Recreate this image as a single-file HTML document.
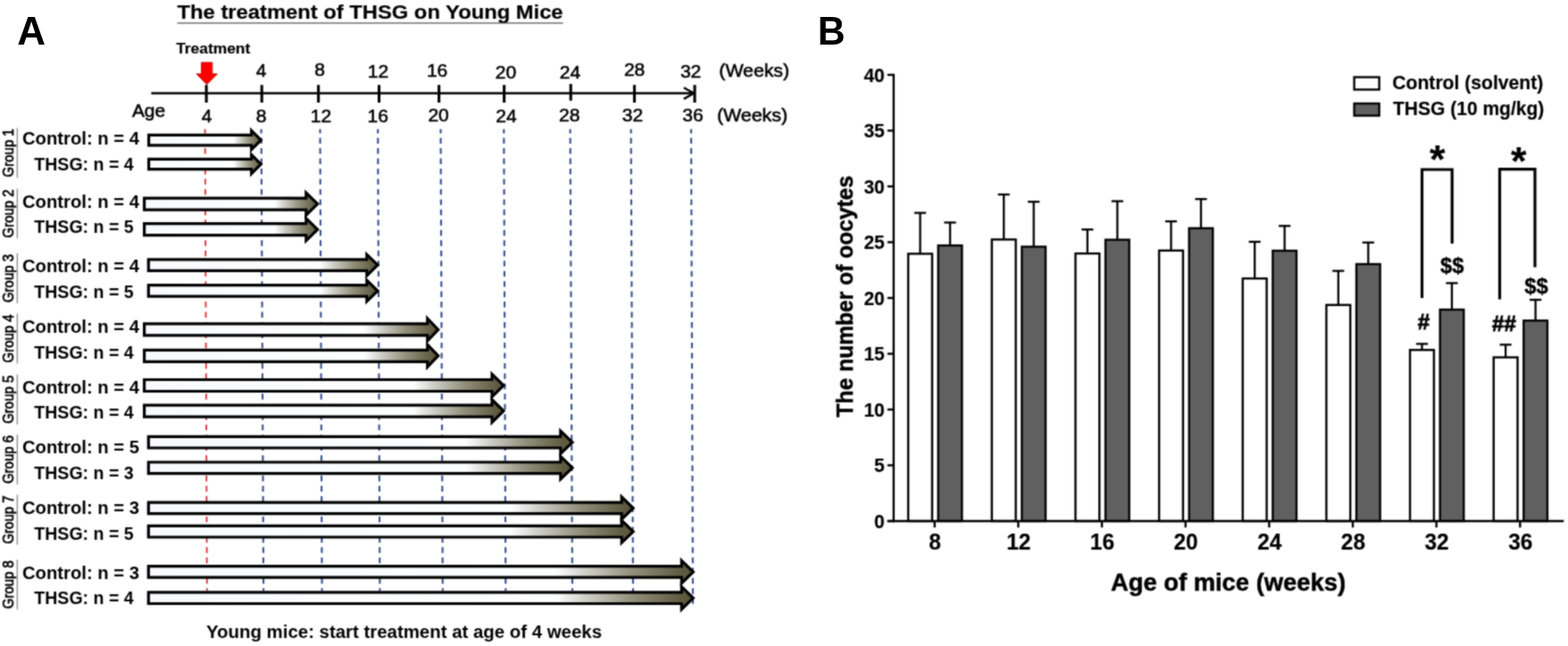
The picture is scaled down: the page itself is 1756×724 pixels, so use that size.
<!DOCTYPE html>
<html lang="en"><head><meta charset="utf-8"><title>The treatment of THSG on Young Mice</title>
<style>
html,body{margin:0;padding:0;background:#fff;}
body{width:1756px;height:724px;overflow:hidden;}
svg{display:block;font-family:"Liberation Sans", sans-serif;fill:#000;}
svg text{font-family:"Liberation Sans", sans-serif;}
</style></head>
<body>
<svg width="1756" height="724" viewBox="0 0 1756 724">
<defs>
<linearGradient id="ag0" gradientUnits="userSpaceOnUse" x1="165.0" y1="0" x2="294.5" y2="0"><stop offset="0" stop-color="#f8fafd"/><stop offset="0.745" stop-color="#fdfeff"/><stop offset="0.80" stop-color="#d0d0ca"/><stop offset="0.885" stop-color="#92907c"/><stop offset="0.973" stop-color="#605c42"/><stop offset="1" stop-color="#57533a"/></linearGradient>
<linearGradient id="ag1" gradientUnits="userSpaceOnUse" x1="160.0" y1="0" x2="357.9" y2="0"><stop offset="0" stop-color="#f8fafd"/><stop offset="0.745" stop-color="#fdfeff"/><stop offset="0.80" stop-color="#d0d0ca"/><stop offset="0.885" stop-color="#92907c"/><stop offset="0.973" stop-color="#605c42"/><stop offset="1" stop-color="#57533a"/></linearGradient>
<linearGradient id="ag2" gradientUnits="userSpaceOnUse" x1="164.7" y1="0" x2="425.2" y2="0"><stop offset="0" stop-color="#f8fafd"/><stop offset="0.745" stop-color="#fdfeff"/><stop offset="0.80" stop-color="#d0d0ca"/><stop offset="0.885" stop-color="#92907c"/><stop offset="0.973" stop-color="#605c42"/><stop offset="1" stop-color="#57533a"/></linearGradient>
<linearGradient id="ag3" gradientUnits="userSpaceOnUse" x1="160.0" y1="0" x2="492.9" y2="0"><stop offset="0" stop-color="#f8fafd"/><stop offset="0.745" stop-color="#fdfeff"/><stop offset="0.80" stop-color="#d0d0ca"/><stop offset="0.885" stop-color="#92907c"/><stop offset="0.973" stop-color="#605c42"/><stop offset="1" stop-color="#57533a"/></linearGradient>
<linearGradient id="ag4" gradientUnits="userSpaceOnUse" x1="160.0" y1="0" x2="566.2" y2="0"><stop offset="0" stop-color="#f8fafd"/><stop offset="0.745" stop-color="#fdfeff"/><stop offset="0.80" stop-color="#d0d0ca"/><stop offset="0.885" stop-color="#92907c"/><stop offset="0.973" stop-color="#605c42"/><stop offset="1" stop-color="#57533a"/></linearGradient>
<linearGradient id="ag5" gradientUnits="userSpaceOnUse" x1="164.7" y1="0" x2="643.3" y2="0"><stop offset="0" stop-color="#f8fafd"/><stop offset="0.745" stop-color="#fdfeff"/><stop offset="0.80" stop-color="#d0d0ca"/><stop offset="0.885" stop-color="#92907c"/><stop offset="0.973" stop-color="#605c42"/><stop offset="1" stop-color="#57533a"/></linearGradient>
<linearGradient id="ag6" gradientUnits="userSpaceOnUse" x1="164.7" y1="0" x2="711.4" y2="0"><stop offset="0" stop-color="#f8fafd"/><stop offset="0.745" stop-color="#fdfeff"/><stop offset="0.80" stop-color="#d0d0ca"/><stop offset="0.885" stop-color="#92907c"/><stop offset="0.973" stop-color="#605c42"/><stop offset="1" stop-color="#57533a"/></linearGradient>
<linearGradient id="ag7" gradientUnits="userSpaceOnUse" x1="164.7" y1="0" x2="778.6" y2="0"><stop offset="0" stop-color="#f8fafd"/><stop offset="0.745" stop-color="#fdfeff"/><stop offset="0.80" stop-color="#d0d0ca"/><stop offset="0.885" stop-color="#92907c"/><stop offset="0.973" stop-color="#605c42"/><stop offset="1" stop-color="#57533a"/></linearGradient>
<filter id="soft" x="0" y="0" width="1756" height="724" filterUnits="userSpaceOnUse" color-interpolation-filters="sRGB"><feConvolveMatrix order="3" kernelMatrix="0.0533 0.1067 0.0533 0.1067 0.3600 0.1067 0.0533 0.1067 0.0533" divisor="1" edgeMode="duplicate" preserveAlpha="true"/></filter>
</defs>
<g filter="url(#soft)">
<rect x="0" y="0" width="1756" height="724" fill="#ffffff"/>
<g id="panelA">
<text x="198.60" y="20.90" font-size="22.9" font-weight="bold" stroke="#000" stroke-width="0.18" textLength="432.00" lengthAdjust="spacingAndGlyphs">The treatment of THSG on Young Mice</text>
<line x1="198.5" y1="25.8" x2="630.6" y2="25.8" stroke="#505050" stroke-width="1.3"/>
<text x="197.20" y="60.30" font-size="16.5" font-weight="bold" stroke="#000" stroke-width="0.18" textLength="83.00" lengthAdjust="spacingAndGlyphs">Treatment</text>
<polygon points="225.5,69.9 237.8,69.9 237.8,82.8 243.5,82.8 231.6,94.8 219.9,82.8 225.5,82.8" fill="#fe0000" stroke="#b80000" stroke-width="0.8" stroke-linejoin="round"/>
<line x1="229.6" y1="144.7" x2="231.8" y2="662" stroke="#d8282e" stroke-width="1.8" stroke-dasharray="6.4 5.07" stroke-dashoffset="1.6"/>
<line x1="292.6" y1="144.7" x2="295.1" y2="662" stroke="#354c8a" stroke-width="2.1" stroke-dasharray="6.4 5.07" stroke-dashoffset="1.6"/>
<line x1="358.5" y1="144.7" x2="360.6" y2="662" stroke="#354c8a" stroke-width="2.1" stroke-dasharray="6.4 5.07" stroke-dashoffset="1.6"/>
<line x1="423.2" y1="144.7" x2="425.4" y2="662" stroke="#354c8a" stroke-width="2.1" stroke-dasharray="6.4 5.07" stroke-dashoffset="1.6"/>
<line x1="493.5" y1="144.7" x2="495.8" y2="662" stroke="#354c8a" stroke-width="2.1" stroke-dasharray="6.4 5.07" stroke-dashoffset="1.6"/>
<line x1="564.3" y1="144.7" x2="566.3" y2="662" stroke="#354c8a" stroke-width="2.1" stroke-dasharray="6.4 5.07" stroke-dashoffset="1.6"/>
<line x1="638.6" y1="144.7" x2="641.0" y2="662" stroke="#354c8a" stroke-width="2.1" stroke-dasharray="6.4 5.07" stroke-dashoffset="1.6"/>
<line x1="706.6" y1="144.7" x2="709.0" y2="667" stroke="#354c8a" stroke-width="2.1" stroke-dasharray="6.4 5.07" stroke-dashoffset="1.6"/>
<line x1="774.0" y1="144.7" x2="776.0" y2="676.7" stroke="#354c8a" stroke-width="2.1" stroke-dasharray="6.4 5.07" stroke-dashoffset="1.6"/>
<line x1="169.4" y1="104.5" x2="777" y2="104.5" stroke="#000" stroke-width="2.4"/>
<line x1="231.1" y1="95.2" x2="231.1" y2="115" stroke="#000" stroke-width="3.1"/>
<line x1="293.2" y1="95.2" x2="293.2" y2="115" stroke="#000" stroke-width="3.1"/>
<line x1="356.6" y1="95.2" x2="356.6" y2="115" stroke="#000" stroke-width="3.1"/>
<line x1="424.5" y1="95.2" x2="424.5" y2="115" stroke="#000" stroke-width="3.1"/>
<line x1="491.6" y1="95.2" x2="491.6" y2="115" stroke="#000" stroke-width="3.1"/>
<line x1="564.6" y1="95.2" x2="564.6" y2="115" stroke="#000" stroke-width="3.1"/>
<line x1="639.2" y1="94.1" x2="639.2" y2="112.8" stroke="#000" stroke-width="3.1"/>
<line x1="710.5" y1="95.2" x2="710.5" y2="115" stroke="#000" stroke-width="3.1"/>
<line x1="778" y1="95.2" x2="778" y2="115" stroke="#000" stroke-width="3.1"/>
<polyline points="765.8,98.2 777,104.5 765.8,110.9" fill="none" stroke="#000" stroke-width="2.4" stroke-linejoin="miter"/>
<text x="286.76" y="86.10" font-size="20" stroke="#000" stroke-width="0.55" textLength="11.68" lengthAdjust="spacingAndGlyphs">4</text>
<text x="352.16" y="85.40" font-size="20" stroke="#000" stroke-width="0.55" textLength="11.68" lengthAdjust="spacingAndGlyphs">8</text>
<text x="411.82" y="86.70" font-size="20" stroke="#000" stroke-width="0.55" textLength="23.36" lengthAdjust="spacingAndGlyphs">12</text>
<text x="477.92" y="85.70" font-size="20" stroke="#000" stroke-width="0.55" textLength="23.36" lengthAdjust="spacingAndGlyphs">16</text>
<text x="554.82" y="87.80" font-size="20" stroke="#000" stroke-width="0.55" textLength="23.36" lengthAdjust="spacingAndGlyphs">20</text>
<text x="626.72" y="88.20" font-size="20" stroke="#000" stroke-width="0.55" textLength="23.36" lengthAdjust="spacingAndGlyphs">24</text>
<text x="698.92" y="85.20" font-size="20" stroke="#000" stroke-width="0.55" textLength="23.36" lengthAdjust="spacingAndGlyphs">28</text>
<text x="761.92" y="87.40" font-size="20" stroke="#000" stroke-width="0.55" textLength="23.36" lengthAdjust="spacingAndGlyphs">32</text>
<text x="805.30" y="86.00" font-size="20" stroke="#000" stroke-width="0.55" textLength="78.80" lengthAdjust="spacingAndGlyphs">(Weeks)</text>
<text x="147.90" y="131.30" font-size="20" stroke="#000" stroke-width="0.55" textLength="37.20" lengthAdjust="spacingAndGlyphs">Age</text>
<text x="225.66" y="137.00" font-size="20" stroke="#000" stroke-width="0.55" textLength="11.68" lengthAdjust="spacingAndGlyphs">4</text>
<text x="286.66" y="137.30" font-size="20" stroke="#000" stroke-width="0.55" textLength="11.68" lengthAdjust="spacingAndGlyphs">8</text>
<text x="347.72" y="137.40" font-size="20" stroke="#000" stroke-width="0.55" textLength="23.36" lengthAdjust="spacingAndGlyphs">12</text>
<text x="411.62" y="137.40" font-size="20" stroke="#000" stroke-width="0.55" textLength="23.36" lengthAdjust="spacingAndGlyphs">16</text>
<text x="479.42" y="136.40" font-size="20" stroke="#000" stroke-width="0.55" textLength="23.36" lengthAdjust="spacingAndGlyphs">20</text>
<text x="555.32" y="137.10" font-size="20" stroke="#000" stroke-width="0.55" textLength="23.36" lengthAdjust="spacingAndGlyphs">24</text>
<text x="626.12" y="135.80" font-size="20" stroke="#000" stroke-width="0.55" textLength="23.36" lengthAdjust="spacingAndGlyphs">28</text>
<text x="696.72" y="136.20" font-size="20" stroke="#000" stroke-width="0.55" textLength="23.36" lengthAdjust="spacingAndGlyphs">32</text>
<text x="764.22" y="136.00" font-size="20" stroke="#000" stroke-width="0.55" textLength="23.36" lengthAdjust="spacingAndGlyphs">36</text>
<text x="802.90" y="135.70" font-size="20" stroke="#000" stroke-width="0.55" textLength="79.20" lengthAdjust="spacingAndGlyphs">(Weeks)</text>
<polygon points="165.00,149.80 280.00,149.80 280.00,142.60 294.50,157.10 280.00,171.60 280.00,164.40 165.00,164.40" fill="#000"/>
<polygon points="168.20,153.00 283.20,153.00 283.20,150.33 289.97,157.10 283.20,163.87 283.20,161.20 168.20,161.20" fill="url(#ag0)"/>
<polygon points="165.00,176.70 280.00,176.70 280.00,169.50 294.50,184.00 280.00,198.50 280.00,191.30 165.00,191.30" fill="#000"/>
<polygon points="168.20,179.90 283.20,179.90 283.20,177.23 289.97,184.00 283.20,190.77 283.20,188.10 168.20,188.10" fill="url(#ag0)"/>
<text x="25.00" y="162.30" font-size="20.8" font-weight="bold" textLength="131.00" lengthAdjust="spacingAndGlyphs" stroke="none">Control: n = 4</text>
<text x="38.30" y="190.70" font-size="20.8" font-weight="bold" textLength="111.30" lengthAdjust="spacingAndGlyphs" stroke="none">THSG: n = 4</text>
<text transform="translate(15.40,198.40) rotate(-90)" font-size="15.8" stroke="#000" stroke-width="0.7" textLength="54.10" lengthAdjust="spacingAndGlyphs">Group 1</text>
<line x1="19.3" y1="143.35" x2="19.3" y2="199.35" stroke="#666" stroke-width="1"/>
<polygon points="160.00,220.50 341.20,220.50 341.20,212.30 357.90,228.60 341.20,244.90 341.20,236.70 160.00,236.70" fill="#000"/>
<polygon points="163.20,223.70 344.40,223.70 344.40,219.89 353.32,228.60 344.40,237.31 344.40,233.50 163.20,233.50" fill="url(#ag1)"/>
<polygon points="160.00,249.10 341.20,249.10 341.20,240.90 357.90,257.20 341.20,273.50 341.20,265.30 160.00,265.30" fill="#000"/>
<polygon points="163.20,252.30 344.40,252.30 344.40,248.49 353.32,257.20 344.40,265.91 344.40,262.10 163.20,262.10" fill="url(#ag1)"/>
<text x="25.00" y="232.50" font-size="20.8" font-weight="bold" textLength="131.00" lengthAdjust="spacingAndGlyphs" stroke="none">Control: n = 4</text>
<text x="38.30" y="261.30" font-size="20.8" font-weight="bold" textLength="111.30" lengthAdjust="spacingAndGlyphs" stroke="none">THSG: n = 5</text>
<text transform="translate(15.40,266.45) rotate(-90)" font-size="15.8" stroke="#000" stroke-width="0.7" textLength="54.10" lengthAdjust="spacingAndGlyphs">Group 2</text>
<line x1="19.3" y1="211.4" x2="19.3" y2="267.4" stroke="#666" stroke-width="1"/>
<polygon points="164.70,289.20 409.20,289.20 409.20,281.50 425.20,297.10 409.20,312.70 409.20,305.00 164.70,305.00" fill="#000"/>
<polygon points="167.90,292.40 412.40,292.40 412.40,289.09 420.62,297.10 412.40,305.11 412.40,301.80 167.90,301.80" fill="url(#ag2)"/>
<polygon points="164.70,318.00 409.20,318.00 409.20,310.30 425.20,325.90 409.20,341.50 409.20,333.80 164.70,333.80" fill="#000"/>
<polygon points="167.90,321.20 412.40,321.20 412.40,317.89 420.62,325.90 412.40,333.91 412.40,330.60 167.90,330.60" fill="url(#ag2)"/>
<text x="25.00" y="304.50" font-size="20.8" font-weight="bold" textLength="131.00" lengthAdjust="spacingAndGlyphs" stroke="none">Control: n = 4</text>
<text x="38.30" y="333.60" font-size="20.8" font-weight="bold" textLength="111.30" lengthAdjust="spacingAndGlyphs" stroke="none">THSG: n = 5</text>
<text transform="translate(15.40,339.05) rotate(-90)" font-size="15.8" stroke="#000" stroke-width="0.7" textLength="54.10" lengthAdjust="spacingAndGlyphs">Group 3</text>
<line x1="19.3" y1="284.0" x2="19.3" y2="340.0" stroke="#666" stroke-width="1"/>
<polygon points="160.00,361.30 477.10,361.30 477.10,352.90 492.90,369.40 477.10,385.90 477.10,377.50 160.00,377.50" fill="#000"/>
<polygon points="163.20,364.50 480.30,364.50 480.30,360.87 488.47,369.40 480.30,377.93 480.30,374.30 163.20,374.30" fill="url(#ag3)"/>
<polygon points="160.00,390.70 477.10,390.70 477.10,382.30 492.90,398.80 477.10,415.30 477.10,406.90 160.00,406.90" fill="#000"/>
<polygon points="163.20,393.90 480.30,393.90 480.30,390.27 488.47,398.80 480.30,407.33 480.30,403.70 163.20,403.70" fill="url(#ag3)"/>
<text x="25.00" y="373.00" font-size="20.8" font-weight="bold" textLength="131.00" lengthAdjust="spacingAndGlyphs" stroke="none">Control: n = 4</text>
<text x="38.30" y="401.90" font-size="20.8" font-weight="bold" textLength="111.30" lengthAdjust="spacingAndGlyphs" stroke="none">THSG: n = 4</text>
<text transform="translate(15.40,406.45) rotate(-90)" font-size="15.8" stroke="#000" stroke-width="0.7" textLength="54.10" lengthAdjust="spacingAndGlyphs">Group 4</text>
<line x1="19.3" y1="351.4" x2="19.3" y2="407.4" stroke="#666" stroke-width="1"/>
<polygon points="160.00,423.90 549.40,423.90 549.40,415.40 566.20,432.00 549.40,448.60 549.40,440.10 160.00,440.10" fill="#000"/>
<polygon points="163.20,427.10 552.60,427.10 552.60,423.06 561.65,432.00 552.60,440.94 552.60,436.90 163.20,436.90" fill="url(#ag4)"/>
<polygon points="160.00,452.50 549.40,452.50 549.40,444.00 566.20,460.60 549.40,477.20 549.40,468.70 160.00,468.70" fill="#000"/>
<polygon points="163.20,455.70 552.60,455.70 552.60,451.66 561.65,460.60 552.60,469.54 552.60,465.50 163.20,465.50" fill="url(#ag4)"/>
<text x="25.00" y="440.60" font-size="20.8" font-weight="bold" textLength="131.00" lengthAdjust="spacingAndGlyphs" stroke="none">Control: n = 4</text>
<text x="38.30" y="469.00" font-size="20.8" font-weight="bold" textLength="111.30" lengthAdjust="spacingAndGlyphs" stroke="none">THSG: n = 4</text>
<text transform="translate(15.40,474.80) rotate(-90)" font-size="15.8" stroke="#000" stroke-width="0.7" textLength="54.10" lengthAdjust="spacingAndGlyphs">Group 5</text>
<line x1="19.3" y1="419.75" x2="19.3" y2="475.75" stroke="#666" stroke-width="1"/>
<polygon points="164.70,487.80 626.20,487.80 626.20,479.20 643.30,495.70 626.20,512.20 626.20,503.60 164.70,503.60" fill="#000"/>
<polygon points="167.90,491.00 629.40,491.00 629.40,486.73 638.69,495.70 629.40,504.67 629.40,500.40 167.90,500.40" fill="url(#ag5)"/>
<polygon points="164.70,516.40 626.20,516.40 626.20,507.80 643.30,524.30 626.20,540.80 626.20,532.20 164.70,532.20" fill="#000"/>
<polygon points="167.90,519.60 629.40,519.60 629.40,515.33 638.69,524.30 629.40,533.27 629.40,529.00 167.90,529.00" fill="url(#ag5)"/>
<text x="25.00" y="508.20" font-size="20.8" font-weight="bold" textLength="131.00" lengthAdjust="spacingAndGlyphs" stroke="none">Control: n = 5</text>
<text x="38.30" y="536.90" font-size="20.8" font-weight="bold" textLength="111.30" lengthAdjust="spacingAndGlyphs" stroke="none">THSG: n = 3</text>
<text transform="translate(15.40,542.05) rotate(-90)" font-size="15.8" stroke="#000" stroke-width="0.7" textLength="54.10" lengthAdjust="spacingAndGlyphs">Group 6</text>
<line x1="19.3" y1="487.0" x2="19.3" y2="543.0" stroke="#666" stroke-width="1"/>
<polygon points="164.70,561.50 694.60,561.50 694.60,553.10 711.40,569.40 694.60,585.70 694.60,577.30 164.70,577.30" fill="#000"/>
<polygon points="167.90,564.70 697.80,564.70 697.80,560.66 706.80,569.40 697.80,578.14 697.80,574.10 167.90,574.10" fill="url(#ag6)"/>
<polygon points="164.70,587.80 694.60,587.80 694.60,579.40 711.40,595.70 694.60,612.00 694.60,603.60 164.70,603.60" fill="#000"/>
<polygon points="167.90,591.00 697.80,591.00 697.80,586.96 706.80,595.70 697.80,604.44 697.80,600.40 167.90,600.40" fill="url(#ag6)"/>
<text x="25.00" y="575.90" font-size="20.8" font-weight="bold" textLength="131.00" lengthAdjust="spacingAndGlyphs" stroke="none">Control: n = 3</text>
<text x="38.30" y="604.90" font-size="20.8" font-weight="bold" textLength="111.30" lengthAdjust="spacingAndGlyphs" stroke="none">THSG: n = 5</text>
<text transform="translate(15.40,609.55) rotate(-90)" font-size="15.8" stroke="#000" stroke-width="0.7" textLength="54.10" lengthAdjust="spacingAndGlyphs">Group 7</text>
<line x1="19.3" y1="554.5" x2="19.3" y2="610.5" stroke="#666" stroke-width="1"/>
<polygon points="164.70,633.00 761.70,633.00 761.70,624.40 778.60,640.90 761.70,657.40 761.70,648.80 164.70,648.80" fill="#000"/>
<polygon points="167.90,636.20 764.90,636.20 764.90,632.00 774.02,640.90 764.90,649.80 764.90,645.60 167.90,645.60" fill="url(#ag7)"/>
<polygon points="164.70,662.30 761.70,662.30 761.70,653.70 778.60,670.20 761.70,686.70 761.70,678.10 164.70,678.10" fill="#000"/>
<polygon points="167.90,665.50 764.90,665.50 764.90,661.30 774.02,670.20 764.90,679.10 764.90,674.90 167.90,674.90" fill="url(#ag7)"/>
<text x="25.00" y="648.80" font-size="20.8" font-weight="bold" textLength="131.00" lengthAdjust="spacingAndGlyphs" stroke="none">Control: n = 3</text>
<text x="38.30" y="676.60" font-size="20.8" font-weight="bold" textLength="111.30" lengthAdjust="spacingAndGlyphs" stroke="none">THSG: n = 4</text>
<text transform="translate(15.40,682.20) rotate(-90)" font-size="15.8" stroke="#000" stroke-width="0.7" textLength="54.10" lengthAdjust="spacingAndGlyphs">Group 8</text>
<line x1="19.3" y1="627.15" x2="19.3" y2="683.15" stroke="#666" stroke-width="1"/>
<text x="231.00" y="715.30" font-size="20.3" font-weight="bold" textLength="443.00" lengthAdjust="spacingAndGlyphs" stroke="none">Young mice: start treatment at age of 4 weeks</text>
</g>
<g id="panelB">
<line x1="1000.8" y1="82.70" x2="1000.8" y2="585.20" stroke="#000" stroke-width="2.4"/>
<line x1="993.8" y1="584.00" x2="1000.8" y2="584.00" stroke="#000" stroke-width="2.4"/>
<text x="979.04" y="591.60" font-size="21.5" font-weight="bold" stroke="#000" stroke-width="0.18" textLength="11.66" lengthAdjust="spacingAndGlyphs">0</text>
<line x1="993.8" y1="521.49" x2="1000.8" y2="521.49" stroke="#000" stroke-width="2.4"/>
<text x="979.04" y="529.09" font-size="21.5" font-weight="bold" stroke="#000" stroke-width="0.18" textLength="11.66" lengthAdjust="spacingAndGlyphs">5</text>
<line x1="993.8" y1="458.98" x2="1000.8" y2="458.98" stroke="#000" stroke-width="2.4"/>
<text x="967.38" y="466.58" font-size="21.5" font-weight="bold" stroke="#000" stroke-width="0.18" textLength="23.32" lengthAdjust="spacingAndGlyphs">10</text>
<line x1="993.8" y1="396.46" x2="1000.8" y2="396.46" stroke="#000" stroke-width="2.4"/>
<text x="967.38" y="404.06" font-size="21.5" font-weight="bold" stroke="#000" stroke-width="0.18" textLength="23.32" lengthAdjust="spacingAndGlyphs">15</text>
<line x1="993.8" y1="333.95" x2="1000.8" y2="333.95" stroke="#000" stroke-width="2.4"/>
<text x="967.38" y="341.55" font-size="21.5" font-weight="bold" stroke="#000" stroke-width="0.18" textLength="23.32" lengthAdjust="spacingAndGlyphs">20</text>
<line x1="993.8" y1="271.44" x2="1000.8" y2="271.44" stroke="#000" stroke-width="2.4"/>
<text x="967.38" y="279.04" font-size="21.5" font-weight="bold" stroke="#000" stroke-width="0.18" textLength="23.32" lengthAdjust="spacingAndGlyphs">25</text>
<line x1="993.8" y1="208.93" x2="1000.8" y2="208.93" stroke="#000" stroke-width="2.4"/>
<text x="967.38" y="216.53" font-size="21.5" font-weight="bold" stroke="#000" stroke-width="0.18" textLength="23.32" lengthAdjust="spacingAndGlyphs">30</text>
<line x1="993.8" y1="146.41" x2="1000.8" y2="146.41" stroke="#000" stroke-width="2.4"/>
<text x="967.38" y="154.01" font-size="21.5" font-weight="bold" stroke="#000" stroke-width="0.18" textLength="23.32" lengthAdjust="spacingAndGlyphs">35</text>
<line x1="993.8" y1="83.90" x2="1000.8" y2="83.90" stroke="#000" stroke-width="2.4"/>
<text x="967.38" y="91.50" font-size="21.5" font-weight="bold" stroke="#000" stroke-width="0.18" textLength="23.32" lengthAdjust="spacingAndGlyphs">40</text>
<line x1="1046.70" y1="584.0" x2="1046.70" y2="591.2" stroke="#000" stroke-width="2.4"/>
<text x="1040.31" y="615.90" font-size="25.7" font-weight="bold" stroke="#000" stroke-width="0.18" textLength="13.58" lengthAdjust="spacingAndGlyphs">8</text>
<line x1="1030.50" y1="238.6" x2="1030.50" y2="284.2" stroke="#000" stroke-width="2.3"/>
<line x1="1023.90" y1="238.6" x2="1037.10" y2="238.6" stroke="#000" stroke-width="2.3"/>
<rect x="1017.10" y="284.40" width="26.80" height="299.60" fill="#fff" stroke="#000" stroke-width="2.4"/>
<line x1="1064.00" y1="249.4" x2="1064.00" y2="274.9" stroke="#000" stroke-width="2.3"/>
<line x1="1057.40" y1="249.4" x2="1070.60" y2="249.4" stroke="#000" stroke-width="2.3"/>
<rect x="1050.70" y="275.10" width="26.60" height="308.90" fill="#606060" stroke="#000" stroke-width="2.4"/>
<line x1="1140.36" y1="584.0" x2="1140.36" y2="591.2" stroke="#000" stroke-width="2.4"/>
<text x="1127.18" y="615.90" font-size="25.7" font-weight="bold" stroke="#000" stroke-width="0.18" textLength="27.16" lengthAdjust="spacingAndGlyphs">12</text>
<line x1="1124.16" y1="218.0" x2="1124.16" y2="268.2" stroke="#000" stroke-width="2.3"/>
<line x1="1117.56" y1="218.0" x2="1130.76" y2="218.0" stroke="#000" stroke-width="2.3"/>
<rect x="1110.76" y="268.40" width="26.80" height="315.60" fill="#fff" stroke="#000" stroke-width="2.4"/>
<line x1="1157.66" y1="226.1" x2="1157.66" y2="276.3" stroke="#000" stroke-width="2.3"/>
<line x1="1151.06" y1="226.1" x2="1164.26" y2="226.1" stroke="#000" stroke-width="2.3"/>
<rect x="1144.36" y="276.50" width="26.60" height="307.50" fill="#606060" stroke="#000" stroke-width="2.4"/>
<line x1="1234.02" y1="584.0" x2="1234.02" y2="591.2" stroke="#000" stroke-width="2.4"/>
<text x="1220.84" y="615.90" font-size="25.7" font-weight="bold" stroke="#000" stroke-width="0.18" textLength="27.16" lengthAdjust="spacingAndGlyphs">16</text>
<line x1="1217.82" y1="257.2" x2="1217.82" y2="283.9" stroke="#000" stroke-width="2.3"/>
<line x1="1211.22" y1="257.2" x2="1224.42" y2="257.2" stroke="#000" stroke-width="2.3"/>
<rect x="1204.42" y="284.10" width="26.80" height="299.90" fill="#fff" stroke="#000" stroke-width="2.4"/>
<line x1="1251.32" y1="225.5" x2="1251.32" y2="268.5" stroke="#000" stroke-width="2.3"/>
<line x1="1244.72" y1="225.5" x2="1257.92" y2="225.5" stroke="#000" stroke-width="2.3"/>
<rect x="1238.02" y="268.70" width="26.60" height="315.30" fill="#606060" stroke="#000" stroke-width="2.4"/>
<line x1="1327.68" y1="584.0" x2="1327.68" y2="591.2" stroke="#000" stroke-width="2.4"/>
<text x="1314.50" y="615.90" font-size="25.7" font-weight="bold" stroke="#000" stroke-width="0.18" textLength="27.16" lengthAdjust="spacingAndGlyphs">20</text>
<line x1="1311.48" y1="248.1" x2="1311.48" y2="280.6" stroke="#000" stroke-width="2.3"/>
<line x1="1304.88" y1="248.1" x2="1318.08" y2="248.1" stroke="#000" stroke-width="2.3"/>
<rect x="1298.08" y="280.80" width="26.80" height="303.20" fill="#fff" stroke="#000" stroke-width="2.4"/>
<line x1="1344.98" y1="223.1" x2="1344.98" y2="255.6" stroke="#000" stroke-width="2.3"/>
<line x1="1338.38" y1="223.1" x2="1351.58" y2="223.1" stroke="#000" stroke-width="2.3"/>
<rect x="1331.68" y="255.80" width="26.60" height="328.20" fill="#606060" stroke="#000" stroke-width="2.4"/>
<line x1="1421.34" y1="584.0" x2="1421.34" y2="591.2" stroke="#000" stroke-width="2.4"/>
<text x="1408.16" y="615.90" font-size="25.7" font-weight="bold" stroke="#000" stroke-width="0.18" textLength="27.16" lengthAdjust="spacingAndGlyphs">24</text>
<line x1="1405.14" y1="271.0" x2="1405.14" y2="311.9" stroke="#000" stroke-width="2.3"/>
<line x1="1398.54" y1="271.0" x2="1411.74" y2="271.0" stroke="#000" stroke-width="2.3"/>
<rect x="1391.74" y="312.10" width="26.80" height="271.90" fill="#fff" stroke="#000" stroke-width="2.4"/>
<line x1="1438.64" y1="253.2" x2="1438.64" y2="280.8" stroke="#000" stroke-width="2.3"/>
<line x1="1432.04" y1="253.2" x2="1445.24" y2="253.2" stroke="#000" stroke-width="2.3"/>
<rect x="1425.34" y="281.00" width="26.60" height="303.00" fill="#606060" stroke="#000" stroke-width="2.4"/>
<line x1="1515.00" y1="584.0" x2="1515.00" y2="591.2" stroke="#000" stroke-width="2.4"/>
<text x="1501.82" y="615.90" font-size="25.7" font-weight="bold" stroke="#000" stroke-width="0.18" textLength="27.16" lengthAdjust="spacingAndGlyphs">28</text>
<line x1="1498.80" y1="303.6" x2="1498.80" y2="341.6" stroke="#000" stroke-width="2.3"/>
<line x1="1492.20" y1="303.6" x2="1505.40" y2="303.6" stroke="#000" stroke-width="2.3"/>
<rect x="1485.40" y="341.80" width="26.80" height="242.20" fill="#fff" stroke="#000" stroke-width="2.4"/>
<line x1="1532.30" y1="271.8" x2="1532.30" y2="295.8" stroke="#000" stroke-width="2.3"/>
<line x1="1525.70" y1="271.8" x2="1538.90" y2="271.8" stroke="#000" stroke-width="2.3"/>
<rect x="1519.00" y="296.00" width="26.60" height="288.00" fill="#606060" stroke="#000" stroke-width="2.4"/>
<line x1="1608.66" y1="584.0" x2="1608.66" y2="591.2" stroke="#000" stroke-width="2.4"/>
<text x="1595.48" y="615.90" font-size="25.7" font-weight="bold" stroke="#000" stroke-width="0.18" textLength="27.16" lengthAdjust="spacingAndGlyphs">32</text>
<line x1="1592.46" y1="385.4" x2="1592.46" y2="392.0" stroke="#000" stroke-width="2.3"/>
<line x1="1585.86" y1="385.4" x2="1599.06" y2="385.4" stroke="#000" stroke-width="2.3"/>
<rect x="1579.06" y="392.20" width="26.80" height="191.80" fill="#fff" stroke="#000" stroke-width="2.4"/>
<line x1="1625.96" y1="317.3" x2="1625.96" y2="346.8" stroke="#000" stroke-width="2.3"/>
<line x1="1619.36" y1="317.3" x2="1632.56" y2="317.3" stroke="#000" stroke-width="2.3"/>
<rect x="1612.66" y="347.00" width="26.60" height="237.00" fill="#606060" stroke="#000" stroke-width="2.4"/>
<line x1="1702.32" y1="584.0" x2="1702.32" y2="591.2" stroke="#000" stroke-width="2.4"/>
<text x="1689.14" y="615.90" font-size="25.7" font-weight="bold" stroke="#000" stroke-width="0.18" textLength="27.16" lengthAdjust="spacingAndGlyphs">36</text>
<line x1="1686.12" y1="386.3" x2="1686.12" y2="400.3" stroke="#000" stroke-width="2.3"/>
<line x1="1679.52" y1="386.3" x2="1692.72" y2="386.3" stroke="#000" stroke-width="2.3"/>
<rect x="1672.72" y="400.50" width="26.80" height="183.50" fill="#fff" stroke="#000" stroke-width="2.4"/>
<line x1="1719.62" y1="336.0" x2="1719.62" y2="359.1" stroke="#000" stroke-width="2.3"/>
<line x1="1713.02" y1="336.0" x2="1726.22" y2="336.0" stroke="#000" stroke-width="2.3"/>
<rect x="1706.32" y="359.30" width="26.60" height="224.70" fill="#606060" stroke="#000" stroke-width="2.4"/>
<line x1="993.8" y1="584.0" x2="1751.3" y2="584.0" stroke="#000" stroke-width="2.4"/>
<text x="1244.00" y="661.90" font-size="28.4" font-weight="bold" textLength="263.00" lengthAdjust="spacingAndGlyphs" stroke="#000" stroke-width="0.5">Age of mice (weeks)</text>
<text transform="translate(954.60,467.40) rotate(-90)" font-size="25.5" font-weight="bold" stroke="#000" stroke-width="0.5" textLength="270.60" lengthAdjust="spacingAndGlyphs">The number of oocytes</text>
<rect x="1516.6" y="86.5" width="28" height="13.9" fill="#fff" stroke="#000" stroke-width="2.4"/>
<rect x="1516.6" y="116.0" width="28" height="13.6" fill="#606060" stroke="#000" stroke-width="2.4"/>
<text x="1559.30" y="99.90" font-size="22.3" font-weight="bold" stroke="#000" stroke-width="0.18" textLength="169.00" lengthAdjust="spacingAndGlyphs">Control (solvent)</text>
<text x="1560.00" y="129.20" font-size="22.3" font-weight="bold" stroke="#000" stroke-width="0.18" textLength="169.30" lengthAdjust="spacingAndGlyphs">THSG (10 mg/kg)</text>
<polyline points="1592.5,334 1592.5,190 1626.2,190 1626.2,273" fill="none" stroke="#000" stroke-width="3.2" stroke-linejoin="miter"/>
<polyline points="1679.5,335.6 1679.5,189.6 1719,189.6 1719,299.6" fill="none" stroke="#000" stroke-width="3.2" stroke-linejoin="miter"/>
<text x="1600.94" y="193.50" font-size="45" font-weight="bold" stroke="#000" stroke-width="0.18">*</text>
<text x="1691.94" y="195.90" font-size="45" font-weight="bold" stroke="#000" stroke-width="0.18">*</text>
<text x="1613.08" y="306.00" font-size="24.5" font-weight="bold" textLength="26.43" lengthAdjust="spacingAndGlyphs" stroke="#000" stroke-width="0.35">$$</text>
<text x="1707.18" y="328.60" font-size="24.5" font-weight="bold" textLength="26.43" lengthAdjust="spacingAndGlyphs" stroke="#000" stroke-width="0.35">$$</text>
<text x="1587.73" y="369.00" font-size="24" font-weight="bold" stroke="#000" stroke-width="0.8">#</text>
<text x="1671.05" y="371.00" font-size="24" font-weight="bold" stroke="#000" stroke-width="0.8">##</text>
</g>
</g>
<g id="panel-labels">
<text x="19.3" y="49.5" font-size="44" font-weight="bold" textLength="31.78" lengthAdjust="spacingAndGlyphs">A</text>
<text x="915.7" y="49.5" font-size="44" font-weight="bold" textLength="30.76" lengthAdjust="spacingAndGlyphs">B</text>
</g>
</svg>
</body></html>
